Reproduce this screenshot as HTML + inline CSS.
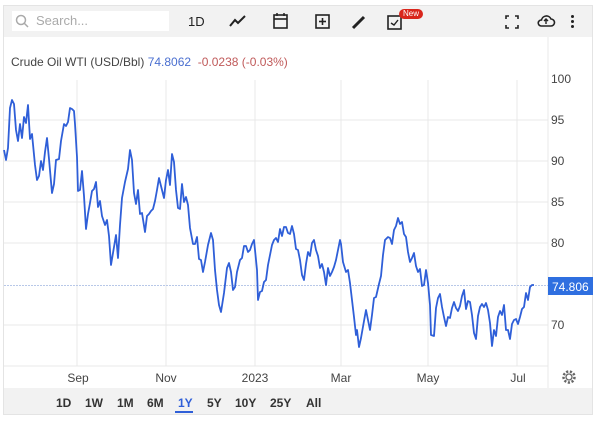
<!DOCTYPE html>
<html><head><style>
body{margin:0;width:600px;height:422px;background:#fff;font-family:"Liberation Sans",sans-serif;overflow:hidden;position:relative}
.frame{position:absolute;left:3px;top:5px;width:590px;height:410px;border:1px solid #e4e4e4;box-sizing:border-box}
.tb{position:absolute;left:4px;top:6px;width:588px;height:31px;background:#f2f2f2}
.search{position:absolute;left:8px;top:5px;width:157px;height:20px;background:#fff;color:#aaa;font-size:13px;line-height:20px}
.bb{position:absolute;left:4px;top:388px;width:588px;height:26px;background:#f2f2f2;font-size:12px;font-weight:bold;color:#333}
.bb span{position:absolute;top:8px}
</style></head><body>
<div class="frame"></div>
<div class="tb">
<div class="search"><svg width="14" height="14" style="position:absolute;left:3px;top:3px"><circle cx="6" cy="6" r="4.5" fill="none" stroke="#aaa" stroke-width="1.5"/><line x1="9" y1="9" x2="13" y2="13" stroke="#aaa" stroke-width="1.5"/></svg><span style="position:absolute;left:24px">Search...</span></div>
<span style="position:absolute;left:184px;top:8px;font-size:13px;color:#222">1D</span>
<svg style="position:absolute;left:224px;top:7px" width="20" height="16"><polyline points="2,13 7,7 10,10 17,3" fill="none" stroke="#222" stroke-width="2"/></svg>
<svg style="position:absolute;left:268px;top:6px" width="18" height="18"><rect x="2" y="3" width="13" height="13" fill="none" stroke="#222" stroke-width="1.6"/><line x1="2" y1="7" x2="15" y2="7" stroke="#222" stroke-width="1.6"/><line x1="5" y1="1" x2="5" y2="4" stroke="#222" stroke-width="1.5"/><line x1="12" y1="1" x2="12" y2="4" stroke="#222" stroke-width="1.5"/></svg>
<svg style="position:absolute;left:310px;top:7px" width="18" height="18"><rect x="2" y="2" width="13" height="13" fill="none" stroke="#222" stroke-width="1.6"/><line x1="8.5" y1="5" x2="8.5" y2="12" stroke="#222" stroke-width="1.6"/><line x1="5" y1="8.5" x2="12" y2="8.5" stroke="#222" stroke-width="1.6"/></svg>
<svg style="position:absolute;left:346px;top:7px" width="18" height="18"><line x1="3" y1="15" x2="14" y2="4" stroke="#222" stroke-width="3"/></svg>
<svg style="position:absolute;left:382px;top:7px" width="18" height="18"><rect x="2" y="3" width="13" height="13" fill="none" stroke="#222" stroke-width="1.6"/><polyline points="5,10 8,12 12,7" fill="none" stroke="#222" stroke-width="1.4"/></svg>
<div style="position:absolute;left:395px;top:3px;background:#d9261c;color:#fff;font-size:8px;border-radius:6px;padding:0 4px;line-height:10px">New</div>
<svg style="position:absolute;left:500px;top:8px" width="16" height="16" stroke="#222" stroke-width="1.6"><path d="M2 5V2h3M11 2h3v3M14 11v3h-3M5 14H2v-3" fill="none"/></svg>
<svg style="position:absolute;left:532px;top:7px" width="20" height="16"><path d="M5 13h10a3.5 3.5 0 0 0 0-7 5 5 0 0 0-9.5 1A3 3 0 0 0 5 13z" fill="none" stroke="#222" stroke-width="1.6"/><path d="M10 11V6M8 8l2-2 2 2" fill="none" stroke="#222" stroke-width="1.4"/></svg>
<div style="position:absolute;left:567px;top:9px;width:3px;height:3px;background:#222;border-radius:2px;box-shadow:0 5px 0 #222,0 10px 0 #222"></div>
</div>
<div style="position:absolute;left:11px;top:55px;font-size:12px;color:#444">Crude Oil WTI (USD/Bbl) <span style="color:#4a6fd0">74.8062</span> &nbsp;<span style="color:#c05a5a">-0.0238 (-0.03%)</span></div>
<svg style="position:absolute;left:0;top:0" width="600" height="422">
<g stroke="#e8e8e8" stroke-width="1">
<line x1="4" y1="120" x2="548" y2="120"/><line x1="4" y1="161" x2="548" y2="161"/><line x1="4" y1="202" x2="548" y2="202"/><line x1="4" y1="243" x2="548" y2="243"/><line x1="4" y1="325" x2="548" y2="325"/><line x1="4" y1="366" x2="548" y2="366"/>
<line x1="77" y1="80" x2="77" y2="366"/><line x1="166" y1="80" x2="166" y2="366"/><line x1="255" y1="80" x2="255" y2="366"/><line x1="341" y1="80" x2="341" y2="366"/><line x1="428" y1="80" x2="428" y2="366"/><line x1="517" y1="80" x2="517" y2="366"/>
<line x1="548" y1="37" x2="548" y2="388"/>
</g>
<line x1="4" y1="285.5" x2="548" y2="285.5" stroke="#b8c8e8" stroke-width="1" stroke-dasharray="2,1"/>
<polyline fill="none" stroke="#2f5fd8" stroke-width="1.8" stroke-linejoin="round" points="4,150 6,160 8,148 10,108 12,100 14,104 16,130 18,141 20,124 22,138 24,117 26,123 28,105 30,139 32,134 35,165 37,180 39,176 41,161 43,170 45,152 47,138 49,159 52,193 54,184 56,160 59,159 61,141 64,124 66,126 68,122 70,108 72,109 74,111 75,124 77,157 78,191 80,190 82,171 84,196 86,229 88,214 90,203 92,191 94,189 96,182 98,207 100,201 102,216 105,225 107,220 109,236 111,265 114,247 116,235 118,258 120,225 122,198 125,182 128,169 130,150 132,160 134,193 136,204 138,190 140,214 142,213 145,232 147,216 149,214 151,211 153,209 155,201 157,190 159,178 161,186 164,198 166,180 168,170 170,185 172,154 174,162 176,190 178,208 180,209 182,184 184,202 186,197 188,205 190,228 193,244 195,244 197,237 199,259 201,260 203,272 205,262 208,245 211,233 213,240 215,270 217,290 219,305 221,312 224,293 227,268 229,263 231,272 233,290 235,287 237,272 240,260 242,258 244,246 246,246 248,252 250,250 252,244 254,240 257,270 258,300 260,292 262,291 264,282 266,280 268,265 270,255 272,245 274,240 276,238 278,242 280,229 282,236 284,227 286,227 288,233 290,234 292,226 294,234 296,249 298,250 300,260 302,275 304,280 306,264 308,252 310,256 312,243 314,240 316,250 318,256 320,268 322,264 324,272 326,285 328,268 330,276 332,272 334,267 336,260 338,250 340,240 341,244 343,262 346,272 348,270 350,283 352,300 354,317 356,335 357,330 359,347 361,338 364,321 366,310 368,320 370,330 372,315 374,298 376,297 379,284 381,276 383,255 385,240 388,237 390,238 392,244 394,230 396,226 398,218 400,224 402,222 404,234 406,237 408,252 410,262 412,258 414,253 416,266 418,272 420,269 422,286 424,285 426,270 428,283 430,305 431,335 434,336 436,308 438,298 440,294 442,307 444,317 446,326 448,317 450,318 452,308 454,302 456,308 458,311 460,306 462,296 464,290 466,309 468,301 470,302 472,315 474,333 476,339 478,316 480,307 482,304 484,307 486,303 488,310 490,323 492,346 494,330 496,336 498,317 500,311 502,315 504,305 506,330 508,330 510,339 512,324 514,320 516,319 518,324 520,317 522,309 524,307 526,293 528,300 530,287 532,285 534,285"/>
<g font-family="Liberation Sans" font-size="12" fill="#444">
<text x="551" y="83">100</text><text x="551" y="124">95</text><text x="551" y="165">90</text><text x="551" y="206">85</text><text x="551" y="247">80</text><text x="551" y="329">70</text>
<text x="78" y="382" text-anchor="middle">Sep</text><text x="166" y="382" text-anchor="middle">Nov</text><text x="255" y="382" text-anchor="middle">2023</text><text x="341" y="382" text-anchor="middle">Mar</text><text x="428" y="382" text-anchor="middle">May</text><text x="518" y="382" text-anchor="middle">Jul</text>
</g>
<rect x="548" y="277" width="45" height="18" fill="#2f6fe0"/>
<text x="552" y="291" font-family="Liberation Sans" font-size="12" fill="#fff">74.806</text>
<g transform="translate(569,377)" fill="none" stroke="#666" stroke-width="1.3"><circle r="3"/><circle r="5.5" stroke-dasharray="2.2,1.6" stroke-width="2.5"/></g>
</svg>
<div class="bb">
<span style="left:52px">1D</span><span style="left:81px">1W</span><span style="left:113px">1M</span><span style="left:143px">6M</span>
<span style="left:174px;color:#2f5fd8">1Y</span><div style="position:absolute;left:171px;top:23px;width:18px;height:2px;background:#2f5fd8"></div>
<span style="left:203px">5Y</span><span style="left:231px">10Y</span><span style="left:266px">25Y</span><span style="left:302px">All</span>
</div>
</body></html>
